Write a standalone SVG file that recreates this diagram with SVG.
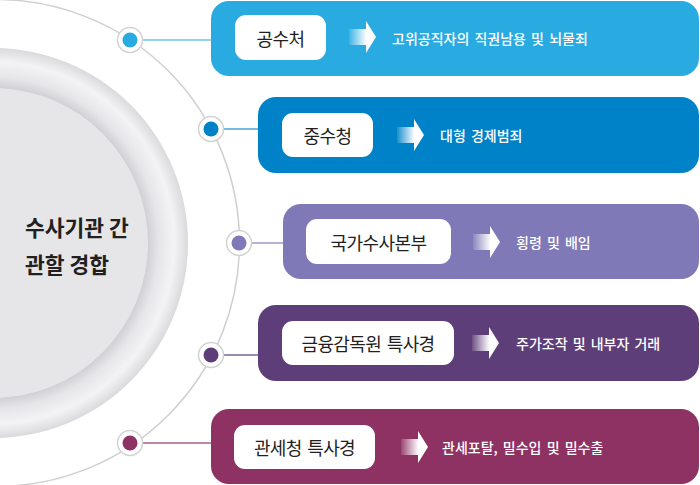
<svg xmlns="http://www.w3.org/2000/svg" width="700" height="485" viewBox="0 0 700 485">
<defs>
<radialGradient id="ring" cx="-7" cy="243" r="195" gradientUnits="userSpaceOnUse">
<stop offset="0.79" stop-color="#cfcfd3"/>
<stop offset="0.85" stop-color="#e6e6e9"/>
<stop offset="0.93" stop-color="#f3f3f5"/>
<stop offset="1" stop-color="#dadadd"/>
</radialGradient>
<linearGradient id="arr" x1="0" y1="0" x2="1" y2="0">
<stop offset="0" stop-color="#fff" stop-opacity="0.1"/>
<stop offset="0.65" stop-color="#fff" stop-opacity="1"/>
<stop offset="1" stop-color="#fff" stop-opacity="1"/>
</linearGradient>
<path id="arrow" d="M0,-8 H17 V-16 L27,0 L17,16 V8 H0 Z"/>
<style>
.box{stroke:none}
.pill{fill:#fff}
.lbl{font-family:"Noto Sans CJK KR","Noto Sans",sans-serif;font-size:18px;fill:#231f20;letter-spacing:-0.6px;word-spacing:2px;text-anchor:middle;dominant-baseline:central}
.desc{font-family:"Noto Sans CJK KR","Noto Sans",sans-serif;font-size:14px;font-weight:500;fill:#fff;letter-spacing:0px;word-spacing:2px;dominant-baseline:central}
.ring{fill:none;stroke:#cfcfcf;stroke-width:1.5}
.dotbg{fill:#fff;stroke:#d2d2d2;stroke-width:1.5}
.title{font-family:"Noto Sans CJK KR","Noto Sans",sans-serif;font-size:21.5px;font-weight:700;fill:#231f20;letter-spacing:0px}
</style>
</defs>
<rect width="700" height="485" fill="#fff"/>
<g id="center">
<circle cx="-4" cy="243" r="243.5" class="ring"/>
<circle cx="-7" cy="243" r="195" fill="url(#ring)"/>
<circle cx="-7" cy="243" r="155" fill="#e6e6e8"/>
<text class="title" x="25" y="236">수사기관 간</text>
<text class="title" x="25" y="273">관할 경합</text>
</g>
<g id="connectors">
<line x1="140" y1="40" x2="212" y2="40" stroke="#6cc3ec" stroke-width="1.5"/>
<line x1="221" y1="129" x2="259" y2="129" stroke="#4aa3d8" stroke-width="1.5"/>
<line x1="249" y1="243" x2="284" y2="243" stroke="#9d99c9" stroke-width="1.5"/>
<line x1="221" y1="355" x2="259" y2="355" stroke="#7b6394" stroke-width="1.5"/>
<line x1="140" y1="443" x2="212" y2="443" stroke="#a85c86" stroke-width="1.5"/>
<circle cx="130" cy="40" r="12.5" class="dotbg"/><circle cx="130" cy="40" r="7.5" fill="#29abe2"/>
<circle cx="211" cy="129" r="12.5" class="dotbg"/><circle cx="211" cy="129" r="7.5" fill="#0082c9"/>
<circle cx="239" cy="243" r="12.5" class="dotbg"/><circle cx="239" cy="243" r="7.5" fill="#7f79b8"/>
<circle cx="211" cy="355" r="12.5" class="dotbg"/><circle cx="211" cy="355" r="7.5" fill="#5e3e78"/>
<circle cx="130" cy="443" r="12.5" class="dotbg"/><circle cx="130" cy="443" r="7.5" fill="#8e3263"/>
</g>
<g id="n1">
<rect x="211" y="1" width="488" height="75" rx="18" fill="#29abe2"/>
<rect x="235" y="15" width="91" height="45" rx="11" class="pill"/>
<text class="lbl" x="280.5" y="37.5">공수처</text>
<use href="#arrow" x="349" y="37" fill="url(#arr)"/>
<text class="desc" x="392" y="38">고위공직자의 직권남용 및 뇌물죄</text>
</g>
<g id="n2">
<rect x="258" y="97" width="441" height="76" rx="18" fill="#0082c9"/>
<rect x="282" y="113" width="91" height="44" rx="11" class="pill"/>
<text class="lbl" x="327.5" y="135">중수청</text>
<use href="#arrow" x="397" y="135" fill="url(#arr)"/>
<text class="desc" x="440" y="135">대형 경제범죄</text>
</g>
<g id="n3">
<rect x="283" y="204" width="416" height="75" rx="18" fill="#7f79b8"/>
<rect x="306" y="219" width="145" height="45" rx="11" class="pill"/>
<text class="lbl" x="378.5" y="241.5">국가수사본부</text>
<use href="#arrow" x="473" y="242" fill="url(#arr)"/>
<text class="desc" x="516" y="242">횡령 및 배임</text>
</g>
<g id="n4">
<rect x="258" y="305" width="441" height="76" rx="18" fill="#5e3e78"/>
<rect x="282" y="321" width="172" height="44" rx="11" class="pill"/>
<text class="lbl" x="368" y="343">금융감독원 특사경</text>
<use href="#arrow" x="472" y="343" fill="url(#arr)"/>
<text class="desc" x="516" y="343">주가조작 및 내부자 거래</text>
</g>
<g id="n5">
<rect x="211" y="409" width="488" height="75" rx="18" fill="#8e3263"/>
<rect x="234" y="425" width="141" height="44" rx="11" class="pill"/>
<text class="lbl" x="304.5" y="447">관세청 특사경</text>
<use href="#arrow" x="401" y="447" fill="url(#arr)"/>
<text class="desc" x="442" y="447">관세포탈, 밀수입 및 밀수출</text>
</g>
</svg>
